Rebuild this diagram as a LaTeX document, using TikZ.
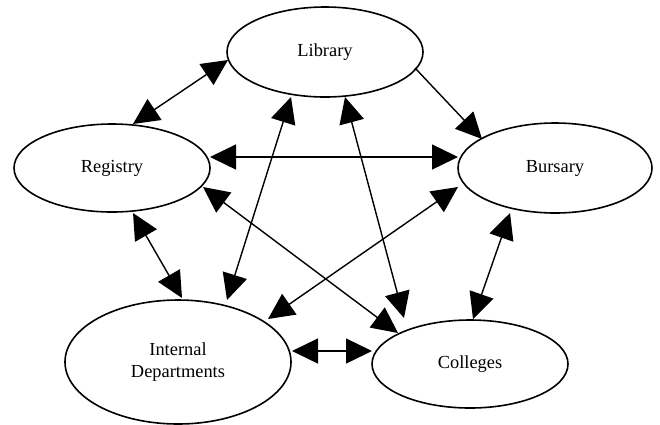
\documentclass[tikz,border=0pt]{standalone}
\usepackage{fontspec}
\setmainfont{Liberation Serif}
\usetikzlibrary{arrows.meta,shapes.geometric,calc}
\begin{document}
\begin{tikzpicture}[x=1pt,y=-1pt,
  ell/.style={draw=black, ellipse, line width=1.6pt, inner sep=0pt, align=center,
    font=\fontsize{18.4}{22}\selectfont},
  conn/.style={line width=1.4pt, draw=black},
  tipa/.tip={Triangle[length=26pt,width=25pt]},
  dbl/.style={conn, tipa-tipa},
  sgl/.style={conn, -tipa}]
\useasboundingbox (0,0) rectangle (660,424);
\node[ell, minimum width=196pt, minimum height=90pt] (lib) at (325,52) {Library};
\node[ell, minimum width=196pt, minimum height=88pt] (reg) at (112,168) {Registry};
\node[ell, minimum width=194pt, minimum height=90pt] (bur) at (555,168) {Bursary};
\node[ell, minimum width=226pt, minimum height=124pt] (idp) at (178,362) {Internal\\Departments};
\node[ell, minimum width=196pt, minimum height=88pt] (col) at (470,364) {Colleges};
% connectors
\draw[dbl] ($(lib)+(-97,8)$) -- ($(reg)+(21,-44)$);
\draw[sgl] ($(lib)+(90,16)$) -- ($(bur)+(-73,-29)$);
\draw[dbl] ($(reg)+(98,-11)$) -- ($(bur)+(-97,-11)$);
\draw[dbl] ($(lib)+(-34,45)$) -- ($(idp)+(49,-62)$);
\draw[dbl] ($(lib)+(20,45)$) -- ($(col)+(-66,-46)$);
\draw[dbl] ($(reg)+(91,19)$) -- ($(col)+(-72,-31)$);
\draw[dbl] ($(reg)+(21,45)$) -- ($(idp)+(4,-64)$);
\draw[dbl] ($(bur)+(-97,19)$) -- ($(idp)+(90,-43)$);
\draw[dbl] ($(bur)+(-45,45)$) -- ($(col)+(3,-45)$);
\draw[dbl] ($(idp)+(114,-11)$) -- ($(col)+(-98,-13)$);
\end{tikzpicture}
\end{document}
